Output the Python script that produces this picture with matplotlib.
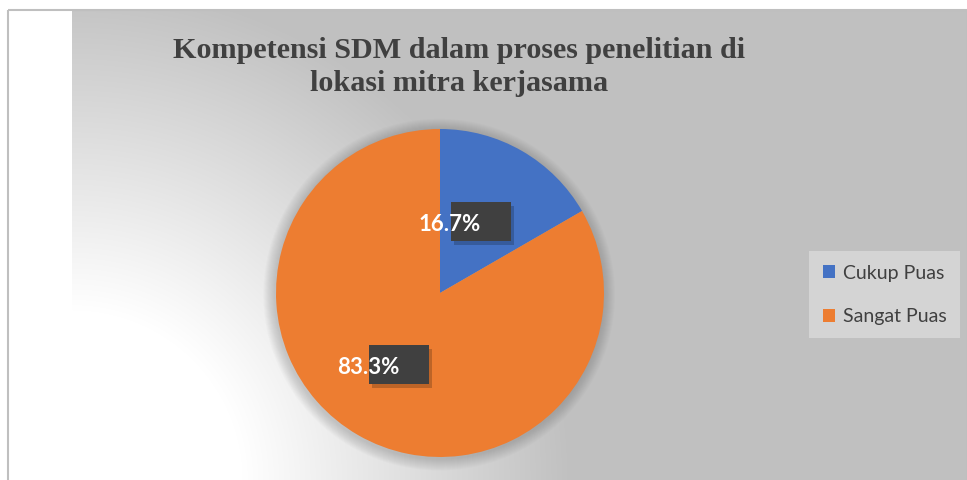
import numpy as np
import matplotlib
matplotlib.use("Agg")
import matplotlib.pyplot as plt
from matplotlib.patches import Rectangle, Circle
from matplotlib.transforms import offset_copy, ScaledTranslation

# data
labels = ["Cukup Puas", "Sangat Puas"]
counts = [1, 5]
colors = ["#4472C4", "#ED7D31"]
title = "Kompetensi SDM dalam proses penelitian di\nlokasi mitra kerjasama"

W, H = 967, 480
fig = plt.figure(figsize=(W / 100, H / 100), dpi=100)
fig.patch.set_facecolor("white")

# background (pixel coordinates)
bg = fig.add_axes([0, 0, 1, 1])
bg.axis("off")
yy, xx = np.mgrid[0:H, 0:W]
r = np.hypot(xx - 72, yy - 480)
val = 255 - 63 * np.clip((r - 170) / 330.0, 0, 1)
img = np.dstack([val, val, val]) / 255.0
img[:, :72] = 1.0
img[:11, :] = 1.0
bg.imshow(img, extent=(0, W, H, 0), interpolation="bilinear", zorder=0)
bg.add_patch(Rectangle((7.5, 9.5), W - 7, H, fill=False, edgecolor="#bfbfbf", lw=1.5, zorder=1))
bg.set_xlim(0, W)
bg.set_ylim(H, 0)

# pie
cx, cy, rad = 440, 293, 164
ax = fig.add_axes([(cx - rad) / W, (H - cy - rad) / H, 2 * rad / W, 2 * rad / H])
ax.set_facecolor("none")
for k in range(12):
    ax.add_patch(Circle((-0.005, -0.01), 1.0 + 0.006 * (12 - k), color="#555555", alpha=0.025, lw=0, zorder=0, clip_on=False))
wedges, texts, autotexts = ax.pie(counts, colors=colors, startangle=90, counterclock=False,
                                  autopct="%1.1f%%", pctdistance=0.5,
                                  wedgeprops=dict(linewidth=0),
                                  textprops=dict(color="white", fontsize=16, fontweight="bold", family="Lato"))
ax.set_xlim(-1, 1)
ax.set_ylim(-1, 1)
ax.set_aspect("equal")

# data label boxes: dark box at label position, text shifted left
bw, bh = 0.60, 0.39  # inches
for t in autotexts:
    x, y = t.get_position()
    at = fig.dpi_scale_trans + ScaledTranslation(x, y, ax.transData)
    ax.add_patch(Rectangle((-bw / 2 + 0.03, -bh / 2 - 0.04), bw, bh, transform=at,
                           facecolor="#000000", alpha=0.2, edgecolor="none", zorder=3, clip_on=False))
    ax.add_patch(Rectangle((-bw / 2, -bh / 2), bw, bh, transform=at,
                           facecolor="#404040", edgecolor="none", zorder=4, clip_on=False))
    t.set_transform(offset_copy(ax.transData, fig=fig, x=-31, y=-3, units="dots"))
    t.set_zorder(5)

fig.text(459 / W, 1 - 67 / H, title, ha="center", va="center", fontsize=21.7, fontweight="bold",
         family="Liberation Serif", color="#404040", linespacing=1.25)

leg = fig.legend(wedges, labels, loc="upper left", bbox_to_anchor=(809 / W, 1 - 251 / H),
                 frameon=True, fancybox=False, facecolor="#d4d4d4", edgecolor="none", framealpha=1,
                 prop=dict(family="Lato", size=14), labelcolor="#404040",
                 handlelength=0.65, handleheight=0.65, handletextpad=0.4, labelspacing=1.35,
                 borderpad=0.7, borderaxespad=0)

fig.savefig("out.png", dpi=100)
